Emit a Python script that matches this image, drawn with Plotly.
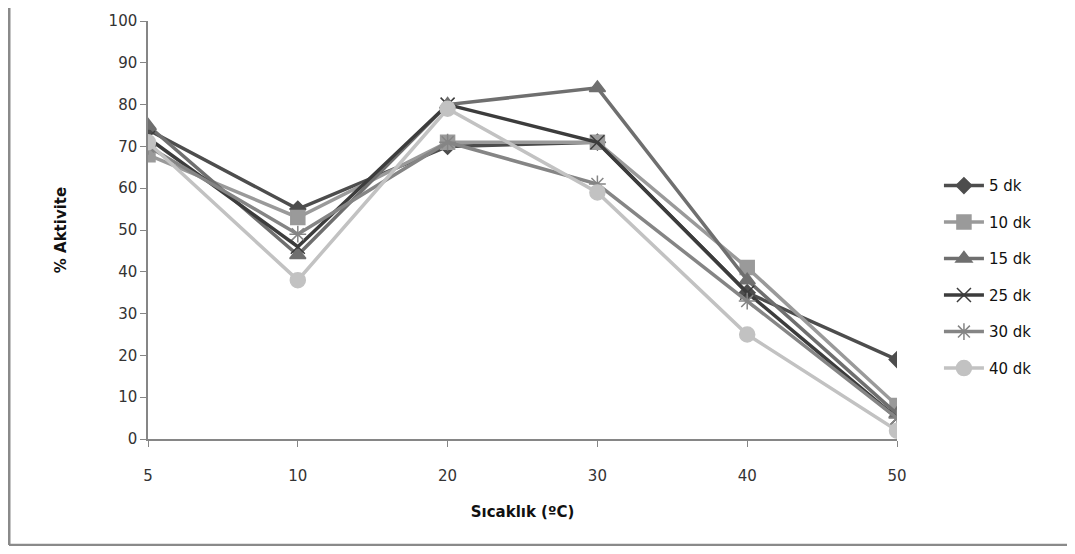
import plotly.graph_objects as go

categories = ["5", "10", "20", "30", "40", "50"]
series_names = ["5 dk", "10 dk", "15 dk", "25 dk", "30 dk", "40 dk"]
v5 = [74, 55, 70, 71, 35, 19]
v10 = [68, 53, 71, 71, 41, 8]
v15 = [75, 44, 80, 84, 38, 6]
v25 = [72, 46, 80, 71, 35, 5]
v30 = [70, 49, 71, 61, 33, 5]
v40 = [71, 38, 79, 59, 25, 2]
y_ticks = [0, 10, 20, 30, 40, 50, 60, 70, 80, 90, 100]

values = [v5, v10, v15, v25, v30, v40]
colors = ["#4d4d4d", "#9a9a9a", "#6f6f6f", "#3c3c3c", "#858585", "#c2c2c2"]
symbols = ["diamond", "square", "triangle-up", "x-thin-open", "asterisk-open", "circle"]
sizes = [12, 14, 14, 14, 14, 15]

W, H = 1059, 538
L, R, T, B = 140, 170, 13, 107
PW, PH = W - L - R, H - T - B

xidx = list(range(len(categories)))
fig = go.Figure()
for name, vals, c, s, sz in zip(series_names, values, colors, symbols, sizes):
    fig.add_trace(go.Scatter(
        x=xidx, y=vals, name=name, mode="lines+markers", legendgroup=name,
        line=dict(color=c, width=3.5),
        marker=dict(symbol=s, size=sz, color=c, line=dict(color=c, width=1.5)),
    ))

bx0 = (1 - L) / PW
bx1 = (W - L) / PW
by0 = (PH + T - 537) / PH
by1 = (PH + T) / PH

fig.update_layout(
    width=W, height=H,
    margin=dict(l=L, r=R, t=T, b=B),
    paper_bgcolor="white", plot_bgcolor="white",
    font=dict(family="DejaVu Sans, Verdana, sans-serif", size=14, color="#222"),
    showlegend=True,
    legend=dict(x=1.056, y=0.388, xanchor="left", yanchor="middle",
                font=dict(size=15, color="#111"), tracegroupgap=14,
                itemwidth=40, bgcolor="rgba(0,0,0,0)"),
    xaxis=dict(
        range=[0, 5], tickmode="array", tickvals=xidx, ticktext=categories,
        showgrid=False, zeroline=False, showline=True, linecolor="#868686", linewidth=1.5,
        ticks="outside", ticklen=6, tickcolor="#868686", automargin=False,
        ticklabelstandoff=16,
        tickfont=dict(size=15, color="#333"),
        title=dict(text="<b>Sıcaklık (ºC)</b>", font=dict(size=15, color="#111"), standoff=23),
    ),
    yaxis=dict(
        range=[0, 100], tickmode="array", tickvals=y_ticks,
        showgrid=False, zeroline=False, showline=True, linecolor="#868686", linewidth=1.5,
        ticks="outside", ticklen=6, tickcolor="#868686", automargin=False,
        tickfont=dict(size=15, color="#333"),
        title=dict(text="<b>% Aktivite</b>", font=dict(size=15, color="#111"), standoff=38),
    ),
    shapes=[
        dict(type="line", xref="paper", yref="paper", x0=bx0, x1=bx0, y0=by0, y1=by1,
             line=dict(color="#8a8a8a", width=3), layer="below"),
        dict(type="line", xref="paper", yref="paper", x0=bx0, x1=bx1, y0=by0, y1=by0,
             line=dict(color="#8a8a8a", width=2.5), layer="below"),
    ],
)

fig.write_html("out.html")
